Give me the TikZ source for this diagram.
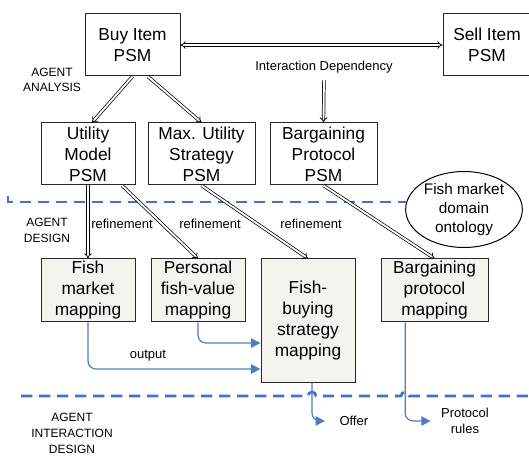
\documentclass[tikz,border=0pt]{standalone}
\usepackage{fontspec}
\setmainfont{Liberation Sans}
\usetikzlibrary{arrows.meta,shapes.geometric}

\definecolor{sepblue}{RGB}{68,114,196}
\definecolor{flowblue}{RGB}{79,125,196}
\definecolor{mapfill}{RGB}{242,244,238}

\tikzset{every picture/.style={line width=0.75pt}}
\tikzset{
  psm/.style={draw={rgb,255:red,40;green,40;blue,40}, inner sep=0pt, align=center,
    font=\fontsize{13}{15.75}\selectfont},
  mapbox/.style={psm, fill=mapfill},
  lbl/.style={inner sep=0pt, align=center, font=\fontsize{9.75}{12}\selectfont},
  phase/.style={inner sep=0pt, align=center, font=\fontsize{9}{11.75}\selectfont},
  refine/.style={double, double distance=1.4pt, line width=0.55pt, -{Implies}},
  flow/.style={draw=flowblue, line width=0.9pt, rounded corners=6pt,
    -{Triangle[length=7pt,width=7pt]}},
  sep/.style={draw=sepblue, line width=2pt, dash pattern=on 8.5pt off 5pt}
}

\begin{document}
\begin{tikzpicture}[x=0.75pt,y=0.75pt,yscale=-1,xscale=1]
	\useasboundingbox (0,0) rectangle (529,456);

	%Separators
	\draw [sep] (8,196) |- (380,202) -- (406,202);
	\draw [sep] (21,396) -- (308,396) arc[start angle=180,end angle=360,radius=4] -- (401,396) arc[start angle=180,end angle=360,radius=4] -- (529,396);

	%Analysis level
	\node [psm, minimum width=71.25pt, minimum height=46.5pt] (buy) at (132.5,45) {Buy Item\\PSM};
	\node [psm, minimum width=66pt, minimum height=46.5pt] (sell) at (487,45) {Sell Item\\PSM};
	\node [psm, minimum width=70.5pt, minimum height=46.5pt] (util) at (88,154) {Utility\\Model\\PSM};
	\node [psm, minimum width=80.25pt, minimum height=46.5pt] (maxu) at (201.5,154) {Max. Utility\\Strategy\\PSM};
	\node [psm, minimum width=80.25pt, minimum height=46.5pt] (bargp) at (323.5,154) {Bargaining\\Protocol\\PSM};

	%Design level
	\node [mapbox, minimum width=70.5pt, minimum height=47.25pt] (fishm) at (88,290.5) {Fish\\market\\mapping};
	\node [mapbox, minimum width=70.5pt, minimum height=47.25pt] (pers) at (198,290.5) {Personal\\fish-value\\mapping};
	\node [mapbox, minimum width=70.5pt, minimum height=92.25pt] (fbuy) at (308,320.5) {Fish-\\buying\\strategy\\mapping};
	\node [mapbox, minimum width=80.25pt, minimum height=47.25pt] (bargm) at (434.5,290.5) {Bargaining\\protocol\\mapping};

	%Shape: Ellipse
	\node [ellipse, draw, fill=white, inner sep=0pt, minimum width=87.5pt, minimum height=57pt, align=center,
	  font=\fontsize{11.5}{14.25}\selectfont] (onto) at (464,209.5) {Fish market\\domain\\ontology};

	% Text Node
	\node [lbl] (idep) at (324,67) {Interaction Dependency};
	% Text Node
	\node [phase] (phan) at (52,80) {AGENT\\ANALYSIS};
	% Text Node
	\node [phase] (phde) at (47,230.5) {AGENT\\DESIGN};
	% Text Node
	\node [phase] (phin) at (72,433.5) {AGENT\\INTERACTION\\DESIGN};
	% Text Node
	\node [lbl] (ref1) at (122,224) {refinement};
	% Text Node
	\node [lbl] (ref2) at (210,224) {refinement};
	% Text Node
	\node [lbl] (ref3) at (311,224) {refinement};
	% Text Node
	\node [lbl] (outp) at (148,356) {output};
	% Text Node
	\node [lbl, anchor=west] (offer) at (339,421) {Offer};
	% Text Node
	\node [lbl] (rules) at (465,421) {Protocol\\rules};

	%Double arrows
	\draw [refine, {Implies}-{Implies}] (buy.east) -- (sell.west);
	\draw [refine] (buy.south) -- ([xshift=3pt]util.north);
	\draw [refine] ([xshift=11.5pt]buy.south) -- (maxu.north);
	\draw [refine, shorten <=5pt] (idep.south) -- (bargp.north);
	\draw [refine] (util.south) -- (fishm.north);
	\draw [refine] ([xshift=25.5pt]util.south) -- (pers.north);
	\draw [refine] (maxu.south) -- (fbuy.north);
	\draw [refine] (bargp.south) -- (bargm.north);

	%Flows
	\draw [flow] (fishm.south) |- ([yshift=36.4pt]fbuy.west);
	\draw [flow] (pers.south) |- ([yshift=16.9pt]fbuy.west);
	\draw [flow, shorten >=10.5pt] ([xshift=3pt]fbuy.south) |- (offer.west);
	\draw [flow, shorten >=7.5pt] ([xshift=-22pt]bargm.south) |- (rules.west);

\end{tikzpicture}
\end{document}
